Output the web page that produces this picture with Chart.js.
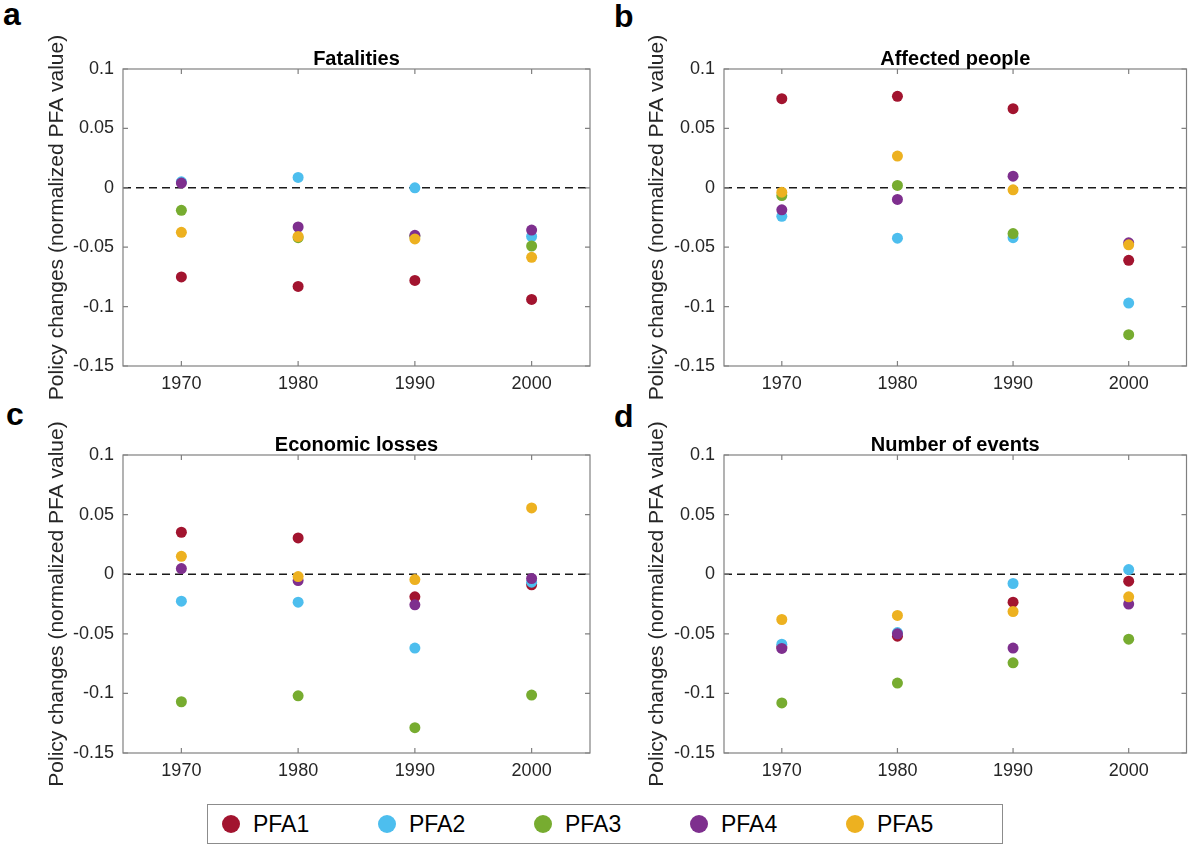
<!DOCTYPE html>
<html>
<head>
<meta charset="utf-8">
<script src="https://cdn.jsdelivr.net/npm/chart.js@4.4.1/dist/chart.umd.min.js"></script>
<style>
  body { margin: 0; background: #fff; width: 1192px; height: 844px; position: relative; overflow: hidden;
         font-family: "Liberation Sans", Arial, Helvetica, sans-serif; }
  canvas { position: absolute; }
  .letter { position: absolute; font-weight: bold; font-size: 32px; line-height: 32px; color: #000; }
  #legend { position: absolute; left: 207px; top: 804px; width: 796px; height: 40px; box-sizing: border-box;
            border: 1.5px solid #8c8c8c; display: flex; align-items: center; padding-left: 14px; }
  .item { width: 168.7px; display: flex; align-items: center; font-size: 23px; color: #000; }
  .dot { width: 18px; height: 18px; border-radius: 50%; margin-right: 13px; }
</style>
</head>
<body>
<div class="letter" style="left:3px; top:-2px;">a</div>
<div class="letter" style="left:614px; top:0px;">b</div>
<div class="letter" style="left:6px; top:398px;">c</div>
<div class="letter" style="left:614px; top:400px;">d</div>

<canvas id="panelA" width="600" height="400" style="left:0; top:0;"></canvas>
<canvas id="panelB" width="592" height="400" style="left:600px; top:0;"></canvas>
<canvas id="panelC" width="600" height="397" style="left:0; top:390px;"></canvas>
<canvas id="panelD" width="592" height="397" style="left:600px; top:390px;"></canvas>

<div id="legend"></div>

<script>
// данные
const years = [1970, 1980, 1990, 2000];
const seriesNames = ["PFA1", "PFA2", "PFA3", "PFA4", "PFA5"];
const seriesColors = ["#A2142F", "#4DBEEE", "#77AC30", "#7E2F8E", "#EDB120"];
const yTicks = [-0.15, -0.1, -0.05, 0, 0.05, 0.1];
const yTickLabels = ["-0.15", "-0.1", "-0.05", "0", "0.05", "0.1"];
const panelTitles = ["Fatalities", "Affected people", "Economic losses", "Number of events"];
const yTitle = "Policy changes (normalized PFA value)";

// строки: PFA1..PFA5, столбцы: 1970..2000
const fatalities = [
  [-0.075, -0.083, -0.078, -0.094],
  [0.005, 0.0087, 0.0, -0.041],
  [-0.019, -0.042, -0.041, -0.049],
  [0.004, -0.033, -0.040, -0.0356],
  [-0.0375, -0.041, -0.043, -0.0585]
];
const affectedPeople = [
  [0.075, 0.077, 0.0666, -0.061],
  [-0.024, -0.0424, -0.042, -0.097],
  [-0.0065, 0.002, -0.0385, -0.1236],
  [-0.0185, -0.0098, 0.0098, -0.0463],
  [-0.0037, 0.0267, -0.0017, -0.048]
];
const economicLosses = [
  [0.0352, 0.0304, -0.019, -0.0089],
  [-0.0226, -0.0235, -0.062, -0.0067],
  [-0.107, -0.102, -0.1288, -0.1014],
  [0.0047, -0.0053, -0.0257, -0.0036],
  [0.015, -0.002, -0.0045, 0.0556]
];
const numberOfEvents = [
  [-0.061, -0.052, -0.0235, -0.0059],
  [-0.0587, -0.049, -0.0078, 0.0039],
  [-0.108, -0.0913, -0.0743, -0.0545],
  [-0.0623, -0.050, -0.062, -0.0251],
  [-0.038, -0.0346, -0.0313, -0.019]
];

const FONT = "'Liberation Sans', Arial, Helvetica, sans-serif";
const xMin = 1965, xMax = 2005;

// рамка, внутренние засечки и заголовок панели
const framePlugin = {
  id: "frame",
  afterDraw(chart, args, opts) {
    const { ctx, chartArea: a, scales: { x, y } } = chart;
    ctx.save();
    ctx.strokeStyle = "#808080";
    ctx.lineWidth = 1.2;
    ctx.strokeRect(a.left, a.top, a.width, a.height);
    ctx.beginPath();
    years.forEach((v) => {
      const px = x.getPixelForValue(v);
      ctx.moveTo(px, a.bottom); ctx.lineTo(px, a.bottom - 5);
      ctx.moveTo(px, a.top); ctx.lineTo(px, a.top + 5);
    });
    yTicks.forEach((v) => {
      const py = y.getPixelForValue(v);
      ctx.moveTo(a.left, py); ctx.lineTo(a.left + 5, py);
      ctx.moveTo(a.right, py); ctx.lineTo(a.right - 5, py);
    });
    ctx.stroke();
    ctx.fillStyle = "#000";
    ctx.font = "bold 20px " + FONT;
    ctx.textAlign = "center";
    ctx.textBaseline = "alphabetic";
    ctx.fillText(opts.text, (a.left + a.right) / 2, a.top - 4.5);
    ctx.restore();
  }
};

function makePanel(id, title, values, axisWidth, padTop, padRight) {
  const datasets = seriesNames.map((name, i) => ({
    label: name,
    data: years.map((yr, j) => ({ x: yr, y: values[i][j] })),
    backgroundColor: seriesColors[i],
    borderColor: seriesColors[i],
    pointRadius: 5.5,
    pointBorderWidth: 0,
    order: seriesNames.length - i // PFA5 поверх остальных
  }));
  // пунктир по нулю
  datasets.push({
    label: "zero",
    data: [{ x: xMin, y: 0 }, { x: xMax, y: 0 }],
    showLine: true,
    borderColor: "#1a1a1a",
    borderWidth: 1.5,
    borderDash: [8, 5],
    pointRadius: 0,
    order: 10
  });

  return new Chart(document.getElementById(id), {
    type: "scatter",
    data: { datasets: datasets },
    options: {
      responsive: false,
      animation: false,
      layout: { padding: { left: 0, top: padTop, right: padRight, bottom: 0 } },
      plugins: {
        legend: { display: false },
        tooltip: { enabled: false },
        frame: { text: title }
      },
      scales: {
        x: {
          type: "linear",
          min: xMin,
          max: xMax,
          afterBuildTicks: (s) => { s.ticks = years.map((v) => ({ value: v })); },
          afterFit: (s) => { s.height = 34; },
          grid: { display: false, drawTicks: false },
          border: { display: false },
          ticks: {
            padding: 7,
            color: "#262626",
            font: { size: 18, family: FONT },
            callback: (v) => String(v)
          }
        },
        y: {
          type: "linear",
          min: -0.15,
          max: 0.1,
          afterBuildTicks: (s) => { s.ticks = yTicks.map((v) => ({ value: v })); },
          afterFit: (s) => { s.width = axisWidth; },
          grid: { display: false, drawTicks: false },
          border: { display: false },
          ticks: {
            padding: 9,
            color: "#262626",
            font: { size: 18, family: FONT },
            callback: (v) => yTickLabels[yTicks.findIndex((t) => Math.abs(t - v) < 1e-9)]
          },
          title: {
            display: true,
            text: yTitle,
            color: "#262626",
            font: { size: 21, family: FONT },
            padding: { top: 45, bottom: 0 }
          }
        }
      }
    },
    plugins: [framePlugin]
  });
}

makePanel("panelA", panelTitles[0], fatalities, 123, 69, 10);
makePanel("panelB", panelTitles[1], affectedPeople, 124, 69, 2);
makePanel("panelC", panelTitles[2], economicLosses, 123, 65, 10);
makePanel("panelD", panelTitles[3], numberOfEvents, 124, 65, 2);

// легенда
const legend = document.getElementById("legend");
seriesNames.forEach((name, i) => {
  const item = document.createElement("div");
  item.className = "item";
  const dot = document.createElement("span");
  dot.className = "dot";
  dot.style.background = seriesColors[i];
  const txt = document.createElement("span");
  txt.textContent = name;
  item.appendChild(dot);
  item.appendChild(txt);
  legend.appendChild(item);
});
</script>
</body>
</html>
